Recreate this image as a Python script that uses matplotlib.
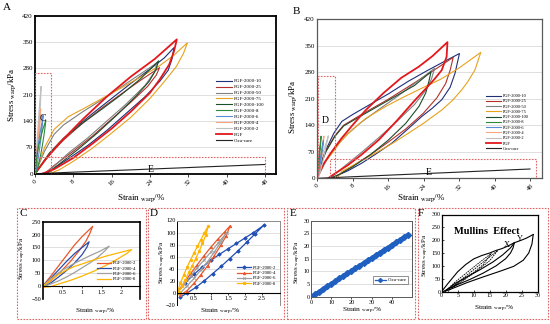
import matplotlib
matplotlib.use("Agg")
import matplotlib.pyplot as plt
from matplotlib.patches import Rectangle

plt.rcParams['font.family'] = ['Liberation Serif', 'DejaVu Serif']
plt.rcParams['mathtext.fontset'] = 'stix'

W, H = 550, 324

# ─────────────────────────────────────────────
# DATA
# ─────────────────────────────────────────────
# panel A, large loops (strain %, stress kPa)
a10_x = [0, 2, 5, 8, 12, 16, 20, 24, 27, 29.0, 28.6, 27.8, 26, 23, 19, 15, 11, 7, 4, 2]
a10_y = [0, 35, 80, 118, 160, 200, 240, 278, 308, 335, 305, 275, 245, 205, 160, 115, 75, 40, 15, 0]
a25_x = [0, 3, 6, 10, 14, 18, 22, 26.0, 25.3, 23.5, 20, 16, 12, 8, 4, 2]
a25_y = [0, 50, 90, 135, 175, 212, 248, 282, 262, 232, 190, 145, 100, 60, 22, 0]
a50_x = [0, 2, 4, 6, 10, 15, 20, 25.5, 24.8, 23, 19, 15, 11, 7, 4, 2]
a50_y = [0, 60, 105, 130, 165, 205, 248, 295, 268, 235, 185, 140, 95, 55, 20, 0]
a75_x = [0, 2, 4, 7, 10, 14, 18, 22, 26, 29, 31.8, 31, 29.5, 27, 24, 20, 16, 12, 8, 5, 3]
a75_y = [0, 70, 118, 152, 172, 200, 228, 257, 287, 315, 348, 320, 285, 245, 200, 150, 108, 68, 33, 10, 0]
a100_x = [0, 3, 6, 10, 14, 18, 22, 25.8, 25.2, 23.8, 21, 17, 13, 9, 5, 2.5]
a100_y = [0, 55, 95, 135, 172, 210, 252, 300, 275, 245, 205, 155, 108, 65, 25, 0]
a_pgf_x = [0, 2, 5, 10, 15, 20, 25, 29.6, 29.0, 28.0, 26, 24, 20, 16, 12, 8, 4, 1.5]
a_pgf_y = [0, 35, 80, 145, 205, 258, 305, 357, 325, 290, 250, 215, 165, 120, 80, 42, 12, 0]

# panel B, large loops
b10_x = [0, 1, 2, 3.8, 5.6, 8, 12, 16, 20.6, 25, 29, 32.1,
         31.1, 30, 28.1, 26, 23.6, 20, 16.9, 13, 10.1, 7, 4.1, 3.0]
b10_y = [0, 45, 75, 119, 150, 168, 195, 222, 256, 285, 310, 329,
         277, 240, 207, 185, 163, 125, 93, 62, 40, 20, 5, 0]
b25_x = [0, 1, 2, 4, 6, 10, 16, 22, 27, 30.7, 30.0, 29, 27, 24, 20, 16, 12, 8, 5, 3.5]
b25_y = [0, 42, 72, 112, 140, 168, 208, 252, 290, 319, 285, 250, 212, 172, 130, 95, 62, 32, 10, 0]
b50_x = [0, 2, 4, 7, 10, 14, 18, 22, 26.5, 25.8, 24.5, 22, 18, 14, 10, 6, 3]
b50_y = [0, 45, 80, 118, 148, 182, 215, 250, 290, 262, 232, 195, 150, 108, 68, 30, 0]
b75_x = [0, 1.5, 3.4, 5.5, 7.9, 11, 15.4, 20, 24.4, 28, 31.9, 36.9,
         35.6, 34, 32.6, 30.5, 28.1, 24, 20.6, 17, 13.1, 9, 5.6, 4.5]
b75_y = [0, 38, 66, 100, 128, 158, 189, 217, 242, 262, 290, 332,
         286, 255, 233, 205, 180, 145, 119, 92, 66, 40, 18, 0]
b100_x = [0, 1, 2, 4, 6, 10, 16, 22, 25.7, 25.2, 24.5, 23, 20, 16, 12, 8, 5, 3]
b100_y = [0, 40, 70, 110, 138, 165, 205, 245, 281, 255, 225, 190, 145, 100, 62, 30, 10, 0]
b_pgf_x = [0, 1.5, 3, 5.5, 8, 11, 15, 19, 22.9, 26, 29.4,
           29.2, 28.1, 26.5, 24.8, 22, 18, 13.9, 10, 7, 4.1, 2.5]
b_pgf_y = [0, 38, 65, 105, 140, 180, 225, 265, 294, 322, 359,
           320, 285, 262, 240, 205, 152, 101, 62, 35, 13, 0]

# panel C, small-strain loops (also drawn inside box C of panel A)
c2_x = [0, 0.2, 0.4, 0.6, 0.8, 1.0, 1.15, 1.27, 1.2, 1.1, 0.95, 0.7, 0.45, 0.2, 0]
c2_y = [0, 38, 78, 118, 158, 192, 214, 232, 205, 175, 142, 95, 55, 20, 0]
c4_x = [0, 0.2, 0.4, 0.6, 0.8, 1.0, 1.18, 1.12, 1.0, 0.8, 0.6, 0.4, 0.2, 0.05]
c4_y = [0, 30, 62, 95, 125, 150, 172, 150, 122, 88, 60, 35, 12, 0]
c6_x = [0, 0.2, 0.5, 0.8, 1.0, 1.2, 1.45, 1.69, 1.6, 1.4, 1.2, 1.0, 0.8, 0.6, 0.4, 0.2, 0.05]
c6_y = [0, 28, 62, 88, 103, 118, 135, 155, 140, 112, 90, 71, 52, 35, 20, 8, 0]
c8_x = [0, 0.2, 0.4, 0.6, 0.8, 1.0, 1.3, 1.6, 1.9, 2.26, 2.15, 1.9, 1.6, 1.3, 1.0, 0.7, 0.4, 0.2, 0]
c8_y = [0, 22, 45, 62, 76, 86, 102, 116, 128, 142, 128, 105, 80, 58, 39, 22, 8, -2, -5]

# panel D, small-strain loops with markers (also drawn inside box D of panel B)
d2_x = [0, 0.25, 0.5, 0.75, 1.0, 1.25, 1.5, 1.75, 2.0, 2.25, 2.55,
        2.3, 2.05, 1.8, 1.55, 1.3, 1.05, 0.8, 0.55, 0.3, 0.1]
d2_y = [0, 17, 31, 43, 54, 64, 73, 82, 91, 100, 112,
        98, 84, 70, 57, 44, 32, 20, 9, 0, -7]
d4_x = [0, 0.2, 0.4, 0.6, 0.8, 1.0, 1.2, 1.4, 1.56, 1.45, 1.3, 1.1, 0.9, 0.7, 0.5, 0.3, 0.1]
d4_y = [0, 16, 32, 47, 62, 76, 89, 101, 111, 95, 80, 62, 45, 30, 16, 4, -4]
d6_x = [0, 0.2, 0.4, 0.6, 0.8, 1.0, 1.2, 1.46, 1.3, 1.1, 0.9, 0.7, 0.5, 0.3, 0.1]
d6_y = [0, 14, 28, 42, 55, 68, 82, 100, 85, 68, 52, 38, 24, 12, 0]
d8_x = [0, 0.1, 0.2, 0.3, 0.4, 0.5, 0.6, 0.7, 0.8, 0.92, 0.85, 0.75, 0.65, 0.55, 0.45, 0.35, 0.25, 0.15, 0.05]
d8_y = [0, 16, 30, 43, 55, 66, 77, 88, 99, 111, 96, 82, 69, 57, 45, 34, 22, 11, 2]

# panel E, Cica-care (also the black line in A and B)
e_x = [0, 2, 4, 6, 8, 10, 12, 14, 16, 18, 20, 22, 24, 26, 28, 30, 32, 34, 36, 38, 40, 42, 44, 46, 48]
e_y = [0, 1.0, 2.0, 3.1, 4.1, 5.1, 6.1, 7.2, 8.2, 9.2, 10.2, 11.2, 12.3, 13.3, 14.3, 15.3,
       16.3, 17.4, 18.4, 19.4, 20.4, 21.4, 22.5, 23.5, 24.5]

# panel F, Mullins effect sketch
f_env_x = [0, 2, 5, 7.5, 10, 12.5, 15, 17, 18.8, 20.5, 22.7, 24.5, 26.5, 28.6]
f_env_y = [0, 32, 77, 105, 127, 140, 150, 160, 167, 176, 190, 198, 208, 222]
f_un1_x = [22.7, 22.3, 21.5, 20, 17, 13, 9, 5, 2, 0.5]
f_un1_y = [190, 170, 150, 128, 100, 72, 48, 27, 10, 0]
f_un2_x = [28.6, 28.2, 27.2, 25.5, 22.5, 18, 13, 8, 4, 1.5]
f_un2_y = [222, 185, 150, 122, 98, 78, 57, 35, 15, 3]
f_re_x = [1, 4, 8, 12, 16, 19, 21.5, 22.7]
f_re_y = [0, 30, 58, 85, 115, 142, 170, 190]
f_d1_x = [1, 4, 7, 10, 13, 15.5, 13, 10, 7, 4, 1]
f_d1_y = [0, 35, 65, 95, 125, 148, 105, 75, 48, 25, 2]
f_d2_x = [2, 6, 10, 14, 17.5, 15, 11, 7, 3]
f_d2_y = [0, 45, 85, 125, 160, 120, 80, 45, 12]

big_labels = ['PGF-2000-10', 'PGF-2000-25', 'PGF-2000-50', 'PGF-2000-75', 'PGF-2000-100',
              'PGF-2000-8', 'PGF-2000-6', 'PGF-2000-4', 'PGF-2000-2', 'PGF', 'Cica-care']
big_colors = ['#1f2f78', '#b3302c', '#808080', '#e8a21c', '#1e4d2b',
              '#2e8b3a', '#5b8bd0', '#f4a582', '#c0c0c0', '#e3181c', '#222222']
small_labels = ['PGF-2000-2', 'PGF-2000-4', 'PGF-2000-6', 'PGF-2000-8']
small_colors = ['#e8562a', '#2a4baa', '#a0a0a0', '#ffb400']
d_colors = ['#1f4eb4', '#e8562a', '#a0a0a0', '#ffb400']
d_markers = ['D', '^', 'x', 'o']

a_ticks_x = [0, 8, 16, 24, 32, 40, 48]
ab_ticks_y = [0, 70, 140, 210, 280, 350, 420]

RED = '#e06666'
DASH = (0, (1.5, 1.2))
XLAB = 'Strain $_{\\mathrm{warp}}$/%'
YLAB = 'Stress $_{\\mathrm{warp}}$/kPa'


def px(x0, y0, x1, y1):
    """figure-pixel box -> add_axes rect"""
    return [x0 / W, 1 - y1 / H, (x1 - x0) / W, (y1 - y0) / H]


def ftext(x, y, s, **kw):
    fig.text(x / W, 1 - y / H, s, **kw)


def frame(ax, lw, color):
    for s in ax.spines.values():
        s.set_linewidth(lw)
        s.set_color(color)


def hgrid(ax):
    ax.yaxis.grid(True, color='#d9d9d9', lw=0.6)
    ax.set_axisbelow(True)


def zero_axis(ax):
    # Excel style: horizontal axis crosses at 0, labels just under it
    ax.spines['bottom'].set_position(('data', 0))
    ax.spines['bottom'].set_color('black')
    ax.spines['bottom'].set_linewidth(0.8)


def big_panel(ax, series, small, box1, box2, lab1, lab2):
    for (x, y), lab, col in zip(series, big_labels, big_colors):
        lw = 1.3 if lab == 'PGF' else 0.8
        ax.plot(x, y, color=col, lw=lw, label=lab)
    for (x, y), col in zip(small, big_colors[5:9][::-1]):
        ax.plot(x, y, color=col, lw=0.8)
    for (x0, y0, x1, y1) in (box1, box2):
        ax.add_patch(Rectangle((x0, y0), x1 - x0, y1 - y0, fill=False,
                               ec=RED, lw=0.8, ls=DASH, zorder=5))
    ax.text(lab1[0], lab1[1], lab1[2], fontsize=7)
    ax.text(lab2[0], lab2[1], lab2[2], fontsize=7)
    ax.set_ylim(0, 420)
    ax.set_yticks(ab_ticks_y)
    ax.set_xticks(a_ticks_x)
    ax.set_xticklabels([str(t) for t in a_ticks_x], rotation=45)
    ax.tick_params(labelsize=5, length=2, width=0.5, pad=1.5)
    ax.tick_params(axis='y', length=0)
    hgrid(ax)


fig = plt.figure(figsize=(W / 100, H / 100), dpi=100)

# ── Panel A ──
axA = fig.add_axes(px(35, 15.7, 276, 173.7))
big_panel(axA,
          [(a10_x, a10_y), (a25_x, a25_y), (a50_x, a50_y), (a75_x, a75_y), (a100_x, a100_y),
           ([], []), ([], []), ([], []), ([], []), (a_pgf_x, a_pgf_y), (e_x, e_y)],
          [(c2_x, c2_y), (c4_x, c4_y), (c6_x, c6_y), (c8_x, c8_y)],
          (0, 0, 3.3, 267), (0, 0, 48, 45), (1.0, 140, 'C'), (23.5, 5, 'E'))
axA.set_xlim(0, 50.3)
frame(axA, 1.3, 'black')
axA.legend(loc='upper left', bbox_to_anchor=(216 / W, 1 - 79 / H), bbox_transform=fig.transFigure,
           fontsize=3.6, frameon=False, handlelength=3.2, labelspacing=0.28,
           handletextpad=0.4, borderaxespad=0, borderpad=0)

# ── Panel B ──
axB = fig.add_axes(px(317, 19, 542, 178.3))
big_panel(axB,
          [(b10_x, b10_y), (b25_x, b25_y), (b50_x, b50_y), (b75_x, b75_y), (b100_x, b100_y),
           ([], []), ([], []), ([], []), ([], []), (b_pgf_x, b_pgf_y), (e_x, e_y)],
          [(d2_x, d2_y), (d4_x, d4_y), (d6_x, d6_y), (d8_x, d8_y)],
          (0.3, 0, 4.0, 270), (2.9, 0, 49.3, 50), (1.0, 145, 'D'), (24.5, 8, 'E'))
axB.set_xlim(0, 50.7)
frame(axB, 0.9, '#595959')
axB.legend(loc='upper left', bbox_to_anchor=(486 / W, 1 - 94 / H), bbox_transform=fig.transFigure,
           fontsize=3.2, frameon=False, handlelength=3.4, labelspacing=0.26,
           handletextpad=0.4, borderaxespad=0, borderpad=0)

# ── Panel C ──
axC = fig.add_axes(px(42.7, 221.7, 139.5, 299))
for x, y, lab, col in zip([c2_x, c4_x, c6_x, c8_x], [c2_y, c4_y, c6_y, c8_y], small_labels, small_colors):
    axC.plot(x, y, color=col, lw=0.9, label=lab)
axC.set_xlim(0, 2.46)
axC.set_ylim(-50, 250)
axC.set_yticks([-50, 0, 50, 100, 150, 200, 250])
axC.set_xticks([0.5, 1, 1.5, 2])
axC.set_xticklabels(['0.5', '1', '1.5', '2'])
axC.tick_params(labelsize=4.5, length=1.5, width=0.5, pad=1)
axC.tick_params(axis='y', length=0)
hgrid(axC)
frame(axC, 1.2, 'black')
zero_axis(axC)
axC.legend(loc='lower right', bbox_to_anchor=(0.99, 0.2), fontsize=3.4, frameon=False,
           handlelength=3, labelspacing=0.2, handletextpad=0.4, borderpad=0)

# ── Panel D ──
axD = fig.add_axes(px(177, 220.5, 280, 305))
for x, y, lab, col, mk in zip([d2_x, d4_x, d6_x, d8_x], [d2_y, d4_y, d6_y, d8_y],
                              small_labels, d_colors, d_markers):
    axD.plot(x, y, color=col, lw=0.9, marker=mk, ms=1.8, mew=0.6, label=lab)
axD.set_xlim(0, 3.03)
axD.set_ylim(-20, 120)
axD.set_yticks([-20, 0, 20, 40, 60, 80, 100, 120])
axD.set_xticks([0.5, 1, 1.5, 2, 2.5])
axD.set_xticklabels(['0.5', '1', '1.5', '2', '2.5'])
axD.tick_params(labelsize=4.5, length=1.5, width=0.5, pad=1)
axD.tick_params(axis='y', length=0)
hgrid(axD)
frame(axD, 0.7, '#8c8c8c')
axD.spines['left'].set_color('black')
zero_axis(axD)
axD.legend(loc='lower right', bbox_to_anchor=(0.99, 0.2), fontsize=3.4, frameon=False,
           handlelength=3, labelspacing=0.2, handletextpad=0.4, borderpad=0)

# ── Panel E ──
axE = fig.add_axes(px(311, 220.7, 412, 296.7))
axE.plot(e_x, e_y, color='#1f5fc0', lw=2.6, marker='D', ms=3, label='Cica-care')
axE.set_xlim(0, 50)
axE.set_ylim(0, 30)
axE.set_yticks([0, 5, 10, 15, 20, 25, 30])
axE.set_xticks([0, 10, 20, 30, 40])
axE.tick_params(labelsize=4.5, length=1.5, width=0.5, pad=1)
axE.tick_params(axis='y', length=0)
hgrid(axE)
frame(axE, 0.7, '#595959')
leg = axE.legend(loc='lower right', bbox_to_anchor=(0.99, 0.13), fontsize=3.6, frameon=True,
                 fancybox=False, edgecolor='#404040', handlelength=2.2, handletextpad=0.3,
                 borderpad=0.4)
leg.get_frame().set_linewidth(0.5)
for h in leg.get_lines():
    h.set_linewidth(0.9)
    h.set_markersize(2)

# ── Panel F ──
axF = fig.add_axes(px(441.7, 214.5, 537.7, 291.5))
for x, y in ((f_env_x, f_env_y), (f_un1_x, f_un1_y), (f_un2_x, f_un2_y), (f_re_x, f_re_y)):
    axF.plot(x, y, color='black', lw=0.8)
for x, y in ((f_d1_x, f_d1_y), (f_d2_x, f_d2_y)):
    axF.plot(x, y, color='black', lw=0.6, ls=(0, (2, 1)))
axF.text(19.3, 172, 'X', fontsize=6)
axF.text(23.6, 196, 'Y', fontsize=6)
axF.text(14, 235, 'Mullins  Effect', fontsize=7.5, fontweight='bold', ha='center', va='center')
axF.set_xlim(0, 30)
axF.set_ylim(0, 300)
axF.set_xticks([0, 5, 10, 15, 20, 25, 30])
axF.set_yticks([0, 50, 100, 150, 200, 250, 300])
axF.tick_params(labelsize=4.3, length=1.5, width=0.5, pad=1, direction='in')
frame(axF, 0.9, 'black')

# ── dashed boxes round the lower panels ──
for x0, x1 in ((17, 146), (148, 284), (287, 415), (418, 548)):
    fig.patches.append(Rectangle((x0 / W, 1 - 319 / H), (x1 - x0) / W, 111 / H, fill=False,
                                 ec=RED, lw=0.8, ls=DASH, transform=fig.transFigure, figure=fig))

# panel letters
ftext(3, 8, 'A', fontsize=8, va='center')
ftext(293, 11, 'B', fontsize=8, va='center')
for x, s in ((19, 'C'), (150, 'D'), (290, 'E'), (418, 'F')):
    ftext(x, 214, s, fontsize=8, va='center')

# axis titles
ftext(141, 198, XLAB, fontsize=6.5, ha='center', va='center')
ftext(421, 198, XLAB, fontsize=6.5, ha='center', va='center')
ftext(12, 95, YLAB, fontsize=6.5, ha='center', va='center', rotation=90)
ftext(293, 107, YLAB, fontsize=6.5, ha='center', va='center', rotation=90)
for x, y in ((95, 312), (220, 312), (362, 311), (494, 309)):
    ftext(x, y, XLAB, fontsize=5.3, ha='center', va='center')
for x, y in ((23, 258), (163, 262), (298, 262), (426, 255)):
    ftext(x, y, YLAB, fontsize=5.0, ha='center', va='center', rotation=90)

fig.savefig('out.png', dpi=100)
